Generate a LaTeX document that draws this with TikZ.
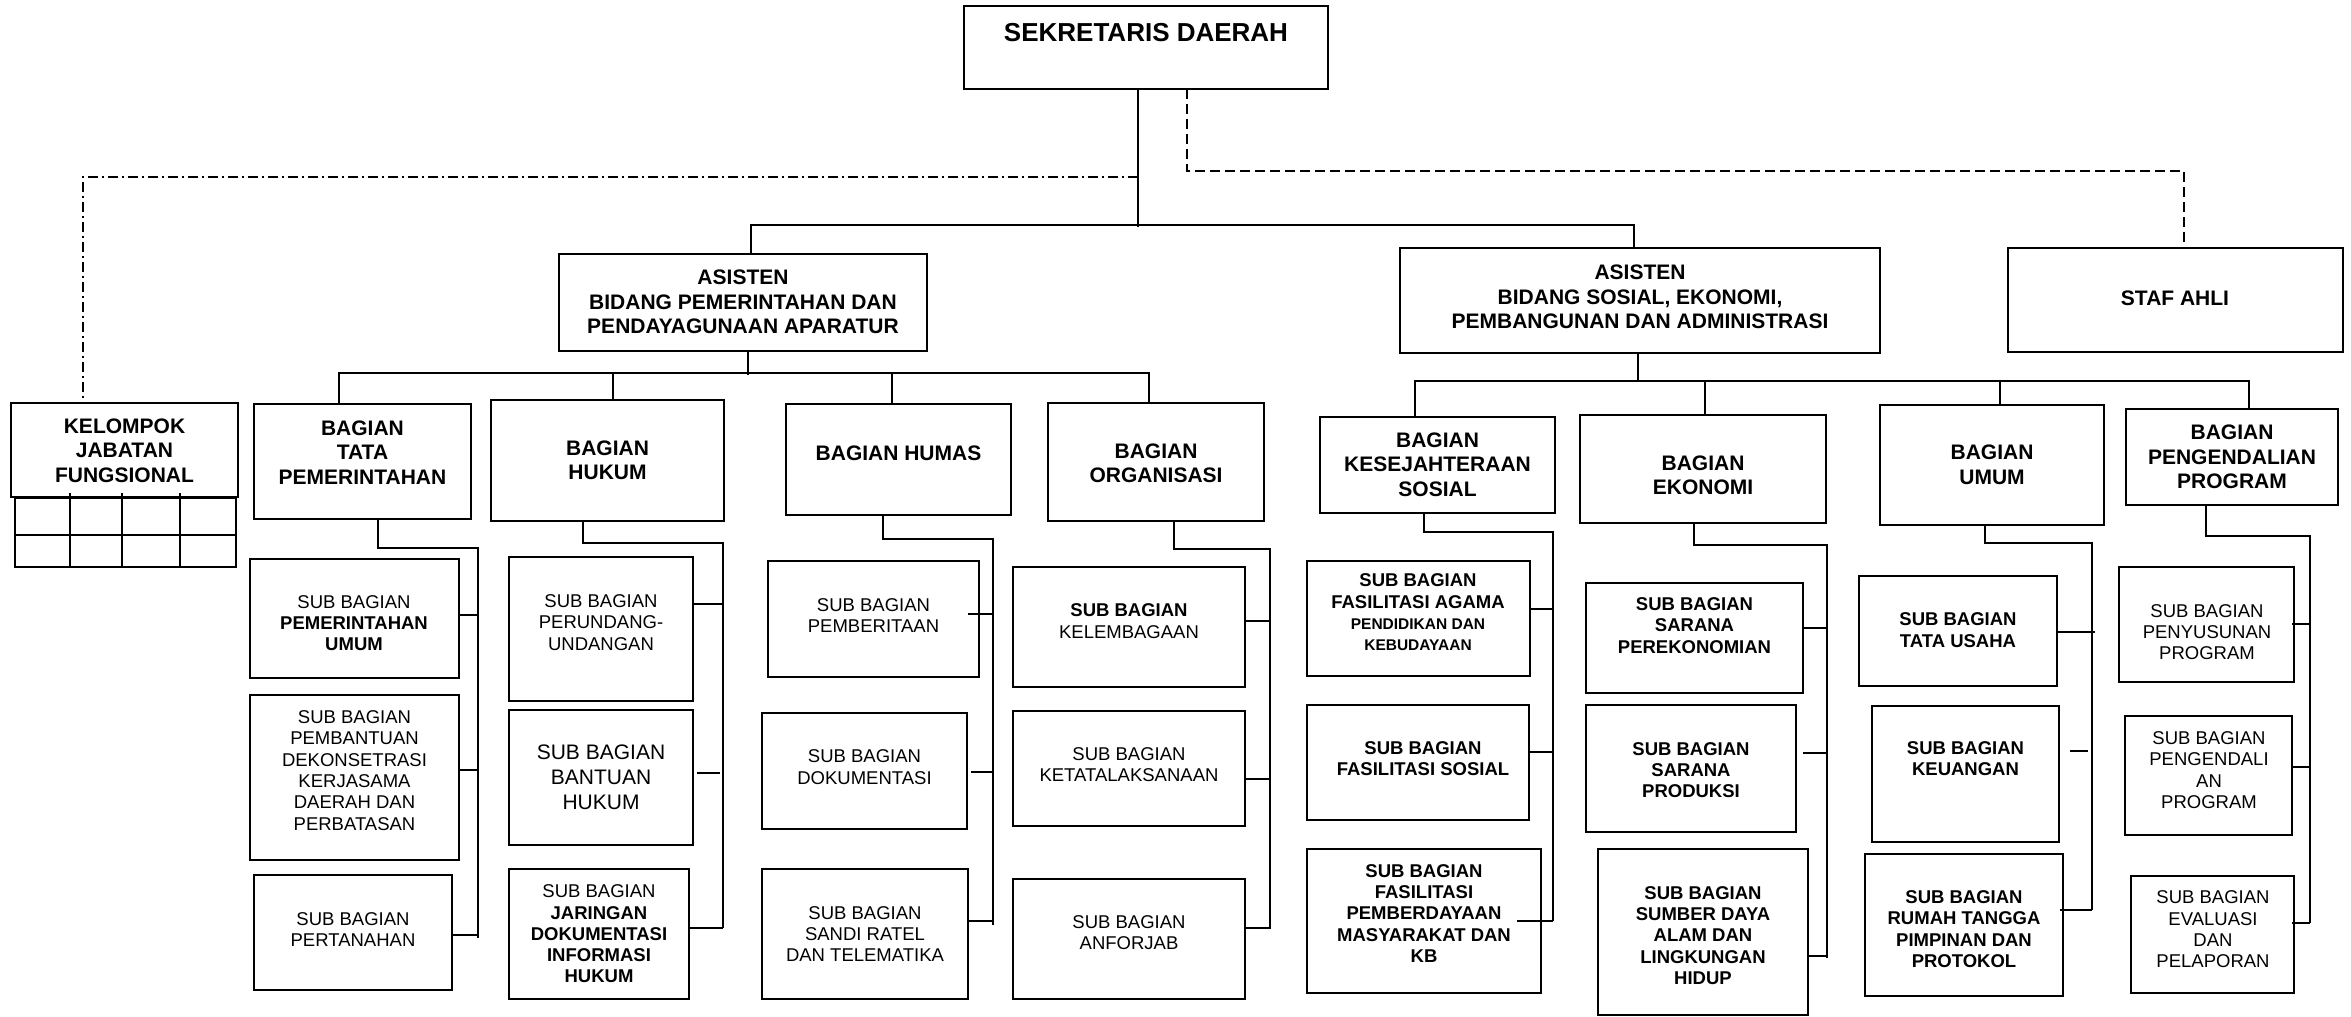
\documentclass[tikz,border=0pt]{standalone}
\usepackage{fontspec}
\setmainfont{Liberation Sans}
\newcommand\bx[5]{\node[box, minimum width={#4-#2}, minimum height={#5-#3}] (#1) at ({(#2+#4)/2},{(#3+#5)/2}) {};}
\newcommand\cn[5]{\draw[ln] ([shift={(#3pt,#2pt)}]#1.east) -- ([shift={(#5pt,#2pt)}]#1.east -| #4);}
\begin{document}
\begin{tikzpicture}[x=1pt,y=-1pt,
  box/.style={draw, line width=2.2pt, inner sep=0pt, outer sep=0pt},
  ln/.style={line width=2pt},
  hd/.style={align=center, inner sep=0pt, font=\bfseries\fontsize{21}{24.5}\selectfont},
  sb/.style={align=center, inner sep=0pt, font=\fontsize{18.5}{21.3}\selectfont},
  sbb/.style={align=center, inner sep=0pt, font=\bfseries\fontsize{18.5}{21.3}\selectfont},
  dashline/.style={line width=1.6pt, dash pattern=on 10pt off 5pt},
  dashdot/.style={line width=1.6pt, dash pattern=on 10pt off 4pt on 2pt off 4pt},
]
\fill[white] (0,0) rectangle (2351,1017);
\useasboundingbox (0,0) rectangle (2351,1017);

% ---------- boxes ----------
\bx{sek}{964}{6}{1328}{89}
\bx{ast1}{559}{254}{927}{351}
\bx{ast2}{1400}{248}{1880}{353}
\bx{staf}{2008}{248}{2343}{352}
\bx{kel}{11}{403}{238}{497}
\bx{kgrid}{15}{498}{236}{567}
\bx{tata}{254}{404}{471}{519}
\bx{hukum}{491}{400}{724}{521}
\bx{humas}{786}{404}{1011}{515}
\bx{org}{1048}{403}{1264}{521}
\bx{kes}{1320}{417}{1555}{513}
\bx{eko}{1580}{415}{1826}{523}
\bx{umum}{1880}{405}{2104}{525}
\bx{peng}{2126}{409}{2338}{505}
\bx{pu}{250}{559}{459}{678}
\bx{pbt}{250}{695}{459}{860}
\bx{ptn}{254}{875}{452}{990}
\bx{pr}{509}{557}{693}{701}
\bx{bh}{509}{710}{693}{845}
\bx{jr}{509}{869}{689}{999}
\bx{pm}{768}{561}{979}{677}
\bx{dk}{762}{713}{967}{829}
\bx{sr}{762}{869}{968}{999}
\bx{kl}{1013}{567}{1245}{687}
\bx{kt}{1013}{711}{1245}{826}
\bx{af}{1013}{879}{1245}{999}
\bx{fa}{1307}{561}{1530}{676}
\bx{fs}{1307}{705}{1529}{820}
\bx{fp}{1307}{849}{1541}{993}
\bx{sp}{1586}{583}{1803}{693}
\bx{sd}{1586}{705}{1796}{832}
\bx{sdl}{1598}{849}{1808}{1015}
\bx{tu}{1859}{576}{2057}{686}
\bx{ku}{1872}{706}{2059}{842}
\bx{rt}{1865}{854}{2063}{996}
\bx{ps}{2119}{567}{2294}{682}
\bx{pg}{2125}{716}{2292}{835}
\bx{ev}{2131}{876}{2294}{993}

% grid under KELOMPOK
\draw[ln] (kgrid.west |- 0,535) -- (kgrid.east |- 0,535);
\foreach \gx in {70,122,180} \draw[ln] (\gx,493) -- (\gx,566);

% ---------- texts ----------
\node[align=center, inner sep=0pt, font=\bfseries\fontsize{26}{30}\selectfont] (t-sek) at (1146,33) {SEKRETARIS DAERAH};
\node[hd] (t-ast1) at (743,302) {ASISTEN\\BIDANG PEMERINTAHAN DAN\\PENDAYAGUNAAN APARATUR};
\node[hd] (t-ast2) at (1640,297) {ASISTEN\\BIDANG SOSIAL, EKONOMI,\\PEMBANGUNAN DAN ADMINISTRASI};
\node[hd] (t-staf) at (2175,298) {STAF AHLI};
\node[hd] (t-kel) at (124.5,450.5) {KELOMPOK\\JABATAN\\FUNGSIONAL};
\node[hd] (t-tata) at (362.5,452.5) {BAGIAN\\TATA\\PEMERINTAHAN};
\node[hd] (t-hukum) at (607.5,460.5) {BAGIAN\\HUKUM};
\node[hd] (t-humas) at (898.5,453) {BAGIAN HUMAS};
\node[hd] (t-org) at (1156,463.5) {BAGIAN\\ORGANISASI};
\node[hd] (t-kes) at (1437.5,464.5) {BAGIAN\\KESEJAHTERAAN\\SOSIAL};
\node[hd] (t-eko) at (1703,475.5) {BAGIAN\\EKONOMI};
\node[hd] (t-umum) at (1992,465) {BAGIAN\\UMUM};
\node[hd] (t-peng) at (2232,457) {BAGIAN\\PENGENDALIAN\\PROGRAM};

\node[sb] (t-pu) at (354,623) {SUB BAGIAN\\\textbf{PEMERINTAHAN}\\\textbf{UMUM}};
\node[sb] (t-pbt) at (354.5,770.5) {SUB BAGIAN\\PEMBANTUAN\\DEKONSETRASI\\KERJASAMA\\DAERAH DAN\\PERBATASAN};
\node[sb] (t-ptn) at (353,929.5) {SUB BAGIAN\\PERTANAHAN};
\node[sb] (t-pr) at (601,622.5) {SUB BAGIAN\\PERUNDANG-\\UNDANGAN};
\node[align=center, inner sep=0pt, font=\fontsize{21}{25}\selectfont] (t-bh) at (601,777) {SUB BAGIAN\\BANTUAN\\HUKUM};
\node[sb] (t-jr) at (599,934) {SUB BAGIAN\\\textbf{JARINGAN}\\\textbf{DOKUMENTASI}\\\textbf{INFORMASI}\\\textbf{HUKUM}};
\node[sb] (t-pm) at (873.5,615.5) {SUB BAGIAN\\PEMBERITAAN};
\node[sb] (t-dk) at (864.5,767) {SUB BAGIAN\\DOKUMENTASI};
\node[sb] (t-sr) at (865,934) {SUB BAGIAN\\SANDI RATEL\\DAN TELEMATIKA};
\node[sb] (t-kl) at (1129,621) {\textbf{SUB BAGIAN}\\KELEMBAGAAN};
\node[sb] (t-kt) at (1129,764.5) {SUB BAGIAN\\KETATALAKSANAAN};
\node[sb] (t-af) at (1129,932.5) {SUB BAGIAN\\ANFORJAB};
\node[sbb] (t-fa) at (1418,612.5) {SUB BAGIAN\\FASILITASI AGAMA\\{\fontsize{15.5}{19}\selectfont PENDIDIKAN DAN}\\{\fontsize{15.5}{19}\selectfont KEBUDAYAAN}};
\node[sbb] (t-fs) at (1423,758.5) {SUB BAGIAN\\FASILITASI SOSIAL};
\node[sbb] (t-fp) at (1424,913.5) {SUB BAGIAN\\FASILITASI\\PEMBERDAYAAN\\MASYARAKAT DAN\\KB};
\node[sbb] (t-sp) at (1694.5,625.5) {SUB BAGIAN\\SARANA\\PEREKONOMIAN};
\node[sbb] (t-sd) at (1691,770) {SUB BAGIAN\\SARANA\\PRODUKSI};
\node[sbb] (t-sdl) at (1703,935.5) {SUB BAGIAN\\SUMBER DAYA\\ALAM DAN\\LINGKUNGAN\\HIDUP};
\node[sbb] (t-tu) at (1958,630) {SUB BAGIAN\\TATA USAHA};
\node[sbb] (t-ku) at (1965.5,758.5) {SUB BAGIAN\\KEUANGAN};
\node[sbb] (t-rt) at (1964,929) {SUB BAGIAN\\RUMAH TANGGA\\PIMPINAN DAN\\PROTOKOL};
\node[sb] (t-ps) at (2207,632) {SUB BAGIAN\\PENYUSUNAN\\PROGRAM};
\node[sb] (t-pg) at (2209,770) {SUB BAGIAN\\PENGENDALI\\AN\\PROGRAM};
\node[sb] (t-ev) at (2213,929.5) {SUB BAGIAN\\EVALUASI\\DAN\\PELAPORAN};

% ---------- top connectors ----------
\coordinate (j0) at (1138,177);
\coordinate (j1) at (1138,225);
\coordinate (d1) at (1187,171);
\coordinate (d2) at (2184,171);
\draw[ln] ([xshift=-8pt]sek.south) -- ([yshift=-2pt]j1);
\draw[ln] ([xshift=8pt]ast1.north) |- (j1) -| ([xshift=-6pt]ast2.north);
\draw[dashline] ([xshift=41pt]sek.south) -- (d1) -- (d2) -- (staf.north -| d2);
\draw[dashdot] (j0) -| (kel.north -| 83,0);

% left assistant bus
\coordinate (lb) at (748,373);
\draw[ln] ([xshift=5pt]ast1.south) -- ([yshift=-2pt]lb);
\draw[ln] ([xshift=-23.5pt]tata.north) |- (lb) -| ([xshift=-7pt]org.north);
\draw[ln] ([xshift=5.5pt]hukum.north) -- ([xshift=5.5pt]hukum.north |- lb);
\draw[ln] ([xshift=-6.5pt]humas.north) -- ([xshift=-6.5pt]humas.north |- lb);

% right assistant bus
\coordinate (rb) at (1638,381);
\draw[ln] ([xshift=-2pt]ast2.south) -- (rb);
\draw[ln] ([xshift=-22.5pt]kes.north) |- (rb) -| ([xshift=17pt]peng.north);
\draw[ln] ([xshift=2pt]eko.north) -- ([xshift=2pt]eko.north |- rb);
\draw[ln] ([xshift=8pt]umum.north) -- ([xshift=8pt]umum.north |- rb);

% ---------- section buses ----------
\coordinate (tb1) at (478,548);  \coordinate (tb2) at (478,938);
\coordinate (hb1) at (723,543);  \coordinate (hb2) at (723,928);
\coordinate (mb1) at (993,539);  \coordinate (mb2) at (993,925);
\coordinate (ob1) at (1270,549); \coordinate (ob2) at (1270,929);
\coordinate (kb1) at (1553,532); \coordinate (kb2) at (1553,921);
\coordinate (eb1) at (1827,545); \coordinate (eb2) at (1827,958);
\coordinate (ub1) at (2092,543); \coordinate (ub2) at (2092,910);
\coordinate (gb1) at (2310,536); \coordinate (gb2) at (2310,923);

\draw[ln] ([xshift=15.5pt]tata.south) |- (tb1) -- (tb2);
\draw[ln] ([xshift=-24.5pt]hukum.south) |- (hb1) -- (hb2);
\draw[ln] ([xshift=-15.5pt]humas.south) |- (mb1) -- (mb2);
\draw[ln] ([xshift=18pt]org.south) |- (ob1) -- (ob2);
\draw[ln] ([xshift=-13.5pt]kes.south) |- (kb1) -- (kb2);
\draw[ln] ([xshift=-9pt]eko.south) |- (eb1) -- (eb2);
\draw[ln] ([xshift=-7pt]umum.south) |- (ub1) -- (ub2);
\draw[ln] ([xshift=-26pt]peng.south) |- (gb1) -- (gb2);

% ---------- sub connectors ----------
\cn{pu}{3.5}{0}{tb1}{0}
\cn{pbt}{7.5}{0}{tb1}{0}
\cn{ptn}{-2.5}{0}{tb1}{0}
\cn{pr}{25}{0}{hb1}{0}
\cn{bh}{4.5}{4}{hb1}{-3}
\cn{jr}{6}{0}{hb1}{0}
\cn{pm}{5}{-11}{mb1}{0}
\cn{dk}{-1}{4}{mb1}{0}
\cn{sr}{13}{0}{mb1}{0}
\cn{kl}{6}{0}{ob1}{0}
\cn{kt}{-10.5}{0}{ob1}{0}
\cn{af}{11}{0}{ob1}{0}
\cn{fa}{9.5}{0}{kb1}{0}
\cn{fs}{10.5}{0}{kb1}{0}
\cn{fp}{0}{-24}{kb1}{0}
\cn{sp}{10}{0}{eb1}{0}
\cn{sd}{15.5}{7}{eb1}{0}
\cn{sdl}{-24}{0}{eb1}{0}
\cn{tu}{-1}{0}{ub1}{3}
\cn{ku}{23}{11}{ub1}{-4}
\cn{rt}{15}{-3}{ub1}{0}
\cn{ps}{0.5}{-2}{gb1}{0}
\cn{pg}{8.5}{0}{gb1}{0}
\cn{ev}{11.5}{-2}{gb1}{0}
\end{tikzpicture}
\end{document}
